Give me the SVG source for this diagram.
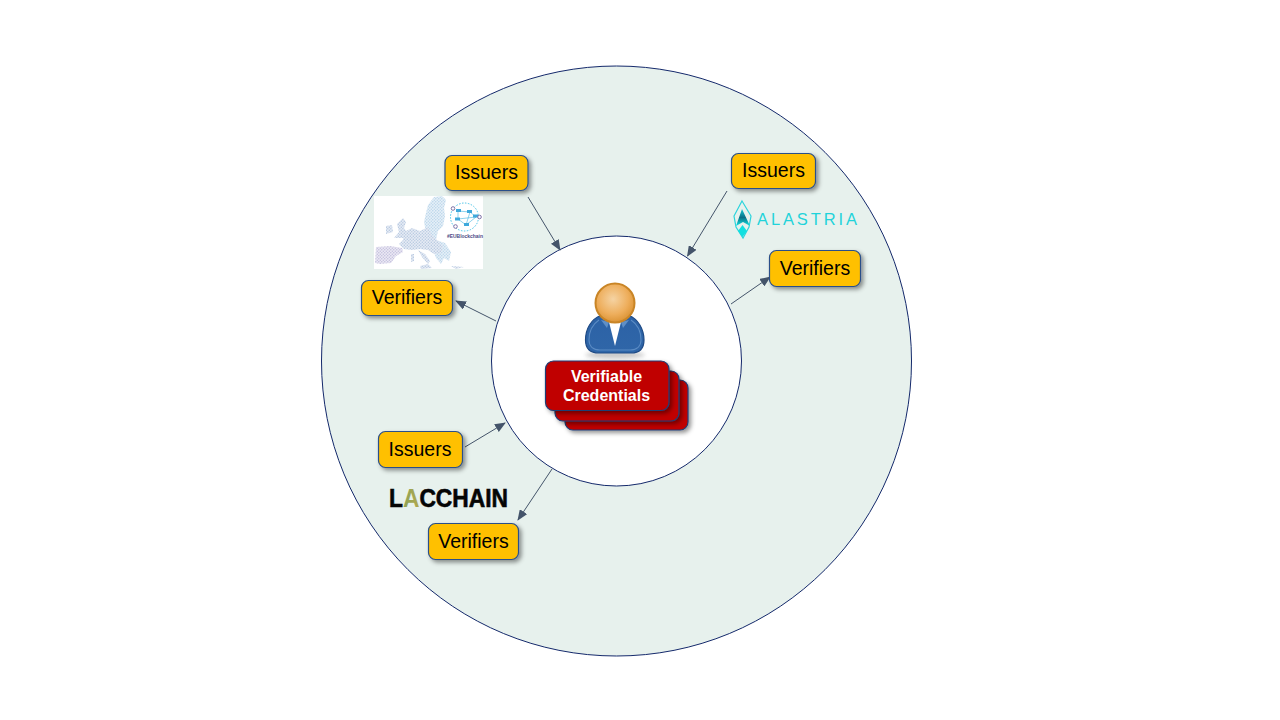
<svg xmlns="http://www.w3.org/2000/svg" width="1280" height="720" viewBox="0 0 1280 720">
<style>
.sans{font-family:"Liberation Sans",Arial,sans-serif}
.box{fill:#ffc000;stroke:#2a4f8a;stroke-width:1.200;filter:url(#sh)}
.lbl{font-family:"Liberation Sans",Arial,sans-serif;font-size:19.500px;fill:#000;text-anchor:middle}
.card{fill:#c00000;stroke:#1f3f77;stroke-width:1.200}
.con{stroke:#44546a;stroke-width:1;fill:none;marker-end:url(#arr)}
.ring{stroke:#14296b;stroke-width:1}
</style>
<defs>
<filter id="sh" x="-20%" y="-20%" width="150%" height="160%"><feDropShadow dx="2.500" dy="2.500" stdDeviation="2.200" flood-color="#000" flood-opacity=".42"/></filter>
<filter id="soft" x="-30%" y="-100%" width="160%" height="300%"><feGaussianBlur stdDeviation="2"/></filter>
<marker id="arr" markerWidth="11" markerHeight="9" refX="10" refY="4.500" orient="auto" markerUnits="userSpaceOnUse"><path d="M0 0L11 4.500L0 9Z" fill="#44546a"/></marker>
<radialGradient id="head" cx=".45" cy=".4" r=".6"><stop offset="0" stop-color="#f5d3a3"/><stop offset=".65" stop-color="#eeae5c"/><stop offset="1" stop-color="#dc9436"/></radialGradient>
<linearGradient id="body" x1="0" y1="0" x2="0" y2="1"><stop offset="0" stop-color="#2c62a6"/><stop offset="1" stop-color="#2f66a8"/></linearGradient>
<linearGradient id="ala" x1="0" y1="0" x2="0" y2="1"><stop offset="0" stop-color="#12c9d6"/><stop offset=".5" stop-color="#0b6f86"/><stop offset="1" stop-color="#0fe5e5"/></linearGradient>
<linearGradient id="lac" x1="0" y1="0" x2="1" y2="0"><stop offset="0" stop-color="#6d9c5a"/><stop offset=".4" stop-color="#d8b04a"/><stop offset=".7" stop-color="#c56f7a"/><stop offset="1" stop-color="#5aa8a8"/></linearGradient>
<pattern id="dotsB" width="3" height="3" patternUnits="userSpaceOnUse"><rect width="3" height="3" fill="#e6f0f8"/><circle cx=".8" cy=".8" r=".7" fill="#b4d2e8"/><circle cx="2.300" cy="2.300" r=".7" fill="#bad6ea"/></pattern>
<pattern id="dotsM" width="3" height="3" patternUnits="userSpaceOnUse"><rect width="3" height="3" fill="#e6ecf5"/><circle cx=".8" cy=".8" r=".7" fill="#b8c8e0"/><circle cx="2.300" cy="2.300" r=".7" fill="#b2c5de"/></pattern>
<pattern id="dotsP" width="3" height="3" patternUnits="userSpaceOnUse"><rect width="3" height="3" fill="#ebe9f4"/><circle cx=".8" cy=".8" r=".7" fill="#bebadb"/><circle cx="2.300" cy="2.300" r=".7" fill="#c2bedd"/></pattern>
</defs>
<rect width="1280" height="720" fill="#fff"/>
<g id="outer-ring"><circle class="ring" cx="616.500" cy="361" r="295" fill="#e7f1ed"/></g>
<g id="inner-ring"><circle class="ring" cx="616.500" cy="361" r="125" fill="#fff"/></g>

<g id="connectors">
<line class="con" x1="528" y1="197" x2="560" y2="250"/>
<line class="con" x1="727" y1="191" x2="687.500" y2="256"/>
<line class="con" x1="731" y1="304" x2="770" y2="277"/>
<line class="con" x1="496" y1="321" x2="456" y2="301"/>
<line class="con" x1="465" y1="447" x2="505" y2="423"/>
<line class="con" x1="552" y1="469" x2="518" y2="520"/>
</g>

<g id="eu-logo">
<rect x="374" y="196" width="109" height="73" fill="#fff"/>
<path fill="url(#dotsB)" d="M428 205L434 197L442 196L446 200L444 208L445 216L443 226L438 231L436 240L445 243L451 252L449 261L444 258L441 264L436 258L432 246L426 232L424 222L426 213Z"/>
<path fill="url(#dotsM)" d="M404 232L412 228L420 231L428 227L432 235L437 240L443 246L441 253L434 254L428 250L420 249L412 250L404 249L399 244L403 240Z"/>
<path fill="url(#dotsM)" d="M397 224L403 218L406 222L404 228L409 235L405 238L394 238L399 232ZM386 226L392 225L393 232L386 234Z"/>
<path fill="url(#dotsP)" d="M376 247L390 246L402 248L403 252L396 256L391 263L380 264L375 263Z"/>
<path fill="url(#dotsM)" d="M418 250L425 254L430 261L428 264L422 257ZM411 254L414 254L414 261L411 262ZM420 266L428 264L432 268L421 269ZM451 266L464 267L456 269Z"/>
<circle cx="464.500" cy="217" r="14" fill="none" stroke="#45c3e8" stroke-width="1" stroke-dasharray="1.500 1.500"/>
<path d="M458 211L470 212L476 217L466 225L458 219L458 211M470 212L466 225M458 219L476 217" fill="none" stroke="#45b6e0" stroke-width=".6"/>
<g fill="#3fa9dc"><rect x="456" y="209" width="5" height="3"/><rect x="467" y="210" width="5" height="3"/><rect x="473" y="214.500" width="5" height="3"/><rect x="455" y="217.500" width="5" height="3"/><rect x="464" y="223" width="5" height="3"/></g>
<g fill="#fff" stroke="#7f72a8" stroke-width="1"><circle cx="453" cy="208.500" r="1.800"/><circle cx="479.500" cy="217" r="1.800"/><circle cx="455.500" cy="226.500" r="1.800"/></g>
<text class="sans" x="447" y="238" font-size="6" font-weight="bold" fill="#4d4a85" textLength="36" lengthAdjust="spacingAndGlyphs">#EUBlockchain</text>
</g>

<g id="alastria-logo">
<path d="M742 201L751 216L749 227L743 238L736 227L734 216Z" fill="none" stroke="#2bd4dc" stroke-width="1.200"/>
<path d="M742 209L750 226L743 222L736 226Z" fill="url(#ala)"/>
<path d="M742.500 225L747 231L742.500 237L738 231Z" fill="#12e0e0"/>
<text class="sans" x="757" y="225" font-size="16.500" fill="#1fd3da" textLength="100">ALASTRIA</text>
</g>

<g id="lacchain-logo">
<text class="sans" x="389" y="507" font-size="25.500" font-weight="bold" fill="#050505" stroke="#050505" stroke-width=".6" textLength="119" lengthAdjust="spacingAndGlyphs">L<tspan fill="url(#lac)" stroke="none">A</tspan>CCHAIN</text>
</g>

<g id="person">
<ellipse cx="615" cy="355" rx="30" ry="3.500" fill="#999" opacity=".55" filter="url(#soft)"/>
<path d="M601 315.500C591 319 585.500 329 585.500 340C585.500 349 591 353 599 353L631 353C639 353 644 349 644 340C644 329 638 319 629 315.500Z" fill="url(#body)" stroke="#1e4a85" stroke-width="1.200"/>
<path d="M589 340C589 346 593 350 600 350L630 350C637 350 641 346 641 340C641 331 637 324 631 320" fill="none" stroke="#5a8bc4" stroke-width="1.100"/>
<path d="M589 340C589 331 593 324 599 320" fill="none" stroke="#5a8bc4" stroke-width="1.100"/>
<path d="M601 320L609 322L607 328ZM629 320L621 322L623 328Z" fill="#5f8fc6"/>
<path d="M609 322L621 322L615 346Z" fill="#fff"/>
<circle cx="615" cy="303" r="19.500" fill="url(#head)" stroke="#c98526" stroke-width="2"/>
</g>

<g id="credentials">
<rect class="card" x="565" y="380" width="123" height="50" rx="8" filter="url(#sh)"/>
<rect class="card" x="555" y="371" width="124" height="50" rx="8" filter="url(#sh)"/>
<rect class="card" x="545.500" y="361" width="123.500" height="49.500" rx="8" filter="url(#sh)"/>
<text class="sans" font-size="16" font-weight="bold" fill="#fff" text-anchor="middle"><tspan x="606.500" y="382">Verifiable</tspan><tspan x="606.500" y="401">Credentials</tspan></text>
</g>

<g id="issuers-eu"><rect class="box" x="445" y="155.500" width="83" height="35" rx="7"/><text class="lbl" x="486.500" y="179">Issuers</text></g>
<g id="issuers-alastria"><rect class="box" x="731.500" y="153.500" width="84" height="35" rx="7"/><text class="lbl" x="773.500" y="177">Issuers</text></g>
<g id="verifiers-alastria"><rect class="box" x="769.500" y="250.500" width="91" height="36" rx="7"/><text class="lbl" x="815" y="275">Verifiers</text></g>
<g id="verifiers-eu"><rect class="box" x="361.500" y="280.500" width="91" height="35" rx="7"/><text class="lbl" x="407" y="304">Verifiers</text></g>
<g id="issuers-lacchain"><rect class="box" x="378.500" y="431.500" width="84" height="36" rx="7"/><text class="lbl" x="420" y="456">Issuers</text></g>
<g id="verifiers-lacchain"><rect class="box" x="428.500" y="523.500" width="90" height="36" rx="7"/><text class="lbl" x="473.500" y="548">Verifiers</text></g>
</svg>
